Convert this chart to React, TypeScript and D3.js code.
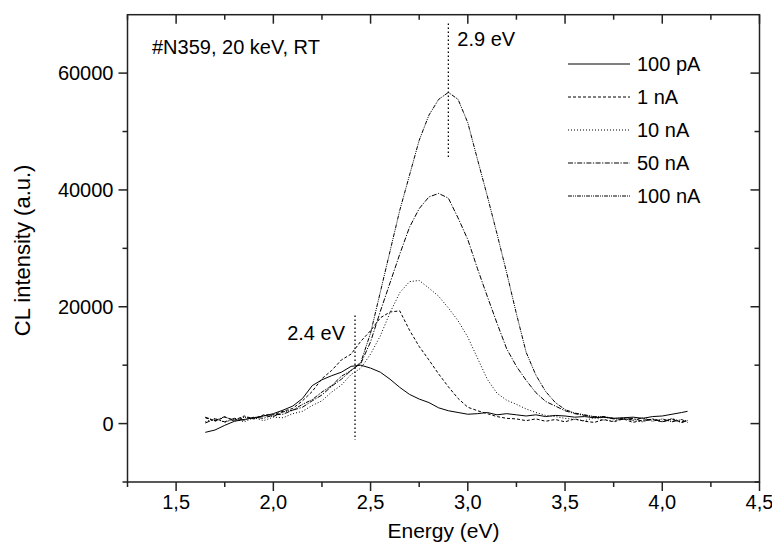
import React from "react";
import * as d3 from "d3";

const energy = [1.65,1.70,1.75,1.80,1.85,1.90,1.95,2.00,2.05,2.10,2.15,2.20,2.25,2.30,2.35,2.40,2.45,2.50,2.55,2.60,2.65,2.70,2.75,2.80,2.85,2.90,2.95,3.00,3.05,3.10,3.15,3.20,3.25,3.30,3.35,3.40,3.45,3.50,3.55,3.60,3.65,3.70,3.75,3.80,3.85,3.90,3.95,4.00,4.05,4.10,4.13];

const s100pA = [-1500,-1100,-300,400,700,1000,1300,1700,2300,3000,4300,6500,7500,8200,8800,9800,10000,9500,8800,7600,6200,5000,4200,3600,2700,2200,1900,1600,1700,1900,1500,1700,1500,1300,1500,1200,1400,1300,1100,1200,1000,1100,900,1000,1100,900,1200,1300,1600,1900,2100];
const s1nA = [1000,400,1100,600,1300,800,1500,1500,2100,2600,3900,5500,7700,9100,10900,11900,14100,15900,18100,19100,19300,16000,13200,10900,8500,6300,4300,2800,2200,1700,1200,900,800,500,800,400,700,300,800,400,200,700,300,800,200,600,700,300,800,200,500];
const s10nA = [300,900,200,800,300,1000,500,1100,1000,1700,2100,3100,3900,5400,6600,8400,9500,11900,15000,19000,22400,24300,24500,23200,21800,19800,17600,14800,11200,7600,5200,4000,3300,2500,1900,1400,1200,900,700,500,1000,600,400,900,500,300,800,400,900,300,600];
const s50nA = [100,800,300,900,600,1100,900,1500,1600,2300,2800,3900,4900,6400,7600,9100,10300,14000,19200,24100,29000,33600,36800,38800,39400,38600,35200,31500,26500,21800,17200,12800,9800,7400,5300,3800,3000,2200,1700,1400,1100,1100,800,700,900,400,800,300,700,200,600];
const s100nA = [1100,500,1200,400,1100,800,1400,1200,2000,2300,3300,4100,5400,6500,8100,9100,10500,15500,22500,29500,36500,42500,48500,52800,55500,56700,55500,51500,45200,39000,32500,25800,18800,12200,8300,5500,3600,2400,1800,1500,1200,1200,900,900,600,1000,400,800,300,700,200];

const seriesNames = ["100 pA", "1 nA", "10 nA", "50 nA", "100 nA"];
const seriesValues = [s100pA, s1nA, s10nA, s50nA, s100nA];
const seriesDash = ["none", "3,2", "1,2", "5,1.5,1.2,1.5", "4,1,1,1,1,1"];

const xMajor = [1.5, 2.0, 2.5, 3.0, 3.5, 4.0, 4.5];
const xMinor = [1.25, 1.75, 2.25, 2.75, 3.25, 3.75, 4.25];
const yMajor = [0, 20000, 40000, 60000];
const yMinor = [-10000, 10000, 30000, 50000];

const W = 772, H = 544;
const L = 127.5, R = 759.5, T = 14.7, B = 482;
const FONT = "'Liberation Sans', Arial, Helvetica, sans-serif";

export default function App() {
  const x = d3.scaleLinear().domain([1.25, 4.5]).range([L, R]);
  const y = d3.scaleLinear().domain([-10000, 70000]).range([B, T]);
  const line = d3.line<number>().x((_, i) => x(energy[i])).y((d) => y(d));
  const fmt = (v: number) => v.toFixed(1).replace(".", ",");
  const axisColor = "#222";
  const legendY = [64, 97, 130, 163, 196];

  return (
    <svg width={W} height={H} style={{ position: "absolute", left: 0, top: 0, background: "#fff" }} fontFamily={FONT}>
      <rect x={0} y={0} width={W} height={H} fill="#fff" />
      {/* curves */}
      <g fill="none" stroke="#000" strokeWidth={1}>
        {seriesValues.map((vals, i) => (
          <path key={i} d={line(vals) || ""} strokeDasharray={seriesDash[i]} />
        ))}
      </g>
      {/* reference lines */}
      <line x1={x(2.9)} x2={x(2.9)} y1={y(68500)} y2={y(45500)} stroke="#000" strokeWidth={1.3} strokeDasharray="1.5,2.5" />
      <line x1={x(2.42)} x2={x(2.42)} y1={y(18500)} y2={y(-2800)} stroke="#000" strokeWidth={1.3} strokeDasharray="1.5,2.5" />
      <text x={x(2.9) + 9} y={46} fontSize={20} fill="#000">2.9 eV</text>
      <text x={x(2.42) - 10} y={340} fontSize={20} fill="#000" textAnchor="end">2.4 eV</text>
      <text x={152} y={54} fontSize={20} fill="#000">#N359, 20 keV, RT</text>
      {/* legend */}
      {seriesNames.map((n, i) => (
        <g key={n}>
          <line x1={568} x2={630} y1={legendY[i]} y2={legendY[i]} stroke="#000" strokeWidth={1} strokeDasharray={seriesDash[i]} />
          <text x={637} y={legendY[i] + 7} fontSize={20} fill="#000">{n}</text>
        </g>
      ))}
      {/* frame */}
      <rect x={L} y={T} width={R - L} height={B - T} fill="none" stroke={axisColor} strokeWidth={1.5} />
      {/* x ticks */}
      {xMajor.map((t) => (
        <g key={"xM" + t}>
          <line x1={x(t)} x2={x(t)} y1={B} y2={B + 9} stroke={axisColor} strokeWidth={1.5} />
          <line x1={x(t)} x2={x(t)} y1={T} y2={T + 9} stroke={axisColor} strokeWidth={1.5} />
          <text x={x(t)} y={B + 27} fontSize={20} textAnchor="middle" fill="#000">{fmt(t)}</text>
        </g>
      ))}
      {xMinor.map((t) => (
        <g key={"xm" + t}>
          <line x1={x(t)} x2={x(t)} y1={B} y2={B + 5} stroke={axisColor} strokeWidth={1.5} />
          <line x1={x(t)} x2={x(t)} y1={T} y2={T + 5} stroke={axisColor} strokeWidth={1.5} />
        </g>
      ))}
      {/* y ticks */}
      {yMajor.map((t) => (
        <g key={"yM" + t}>
          <line x1={L - 9} x2={L} y1={y(t)} y2={y(t)} stroke={axisColor} strokeWidth={1.5} />
          <line x1={R - 9} x2={R} y1={y(t)} y2={y(t)} stroke={axisColor} strokeWidth={1.5} />
          <text x={L - 14} y={y(t) + 7} fontSize={20} textAnchor="end" fill="#000">{t}</text>
        </g>
      ))}
      {yMinor.map((t) => (
        <g key={"ym" + t}>
          <line x1={L - 5} x2={L} y1={y(t)} y2={y(t)} stroke={axisColor} strokeWidth={1.5} />
          <line x1={R - 5} x2={R} y1={y(t)} y2={y(t)} stroke={axisColor} strokeWidth={1.5} />
        </g>
      ))}
      {/* axis titles */}
      <text x={(L + R) / 2} y={538} fontSize={21} textAnchor="middle" fill="#000">Energy (eV)</text>
      <text transform={`translate(30, ${(T + B) / 2 + 2}) rotate(-90)`} fontSize={22} textAnchor="middle" fill="#000">CL intensity (a.u.)</text>
    </svg>
  );
}
